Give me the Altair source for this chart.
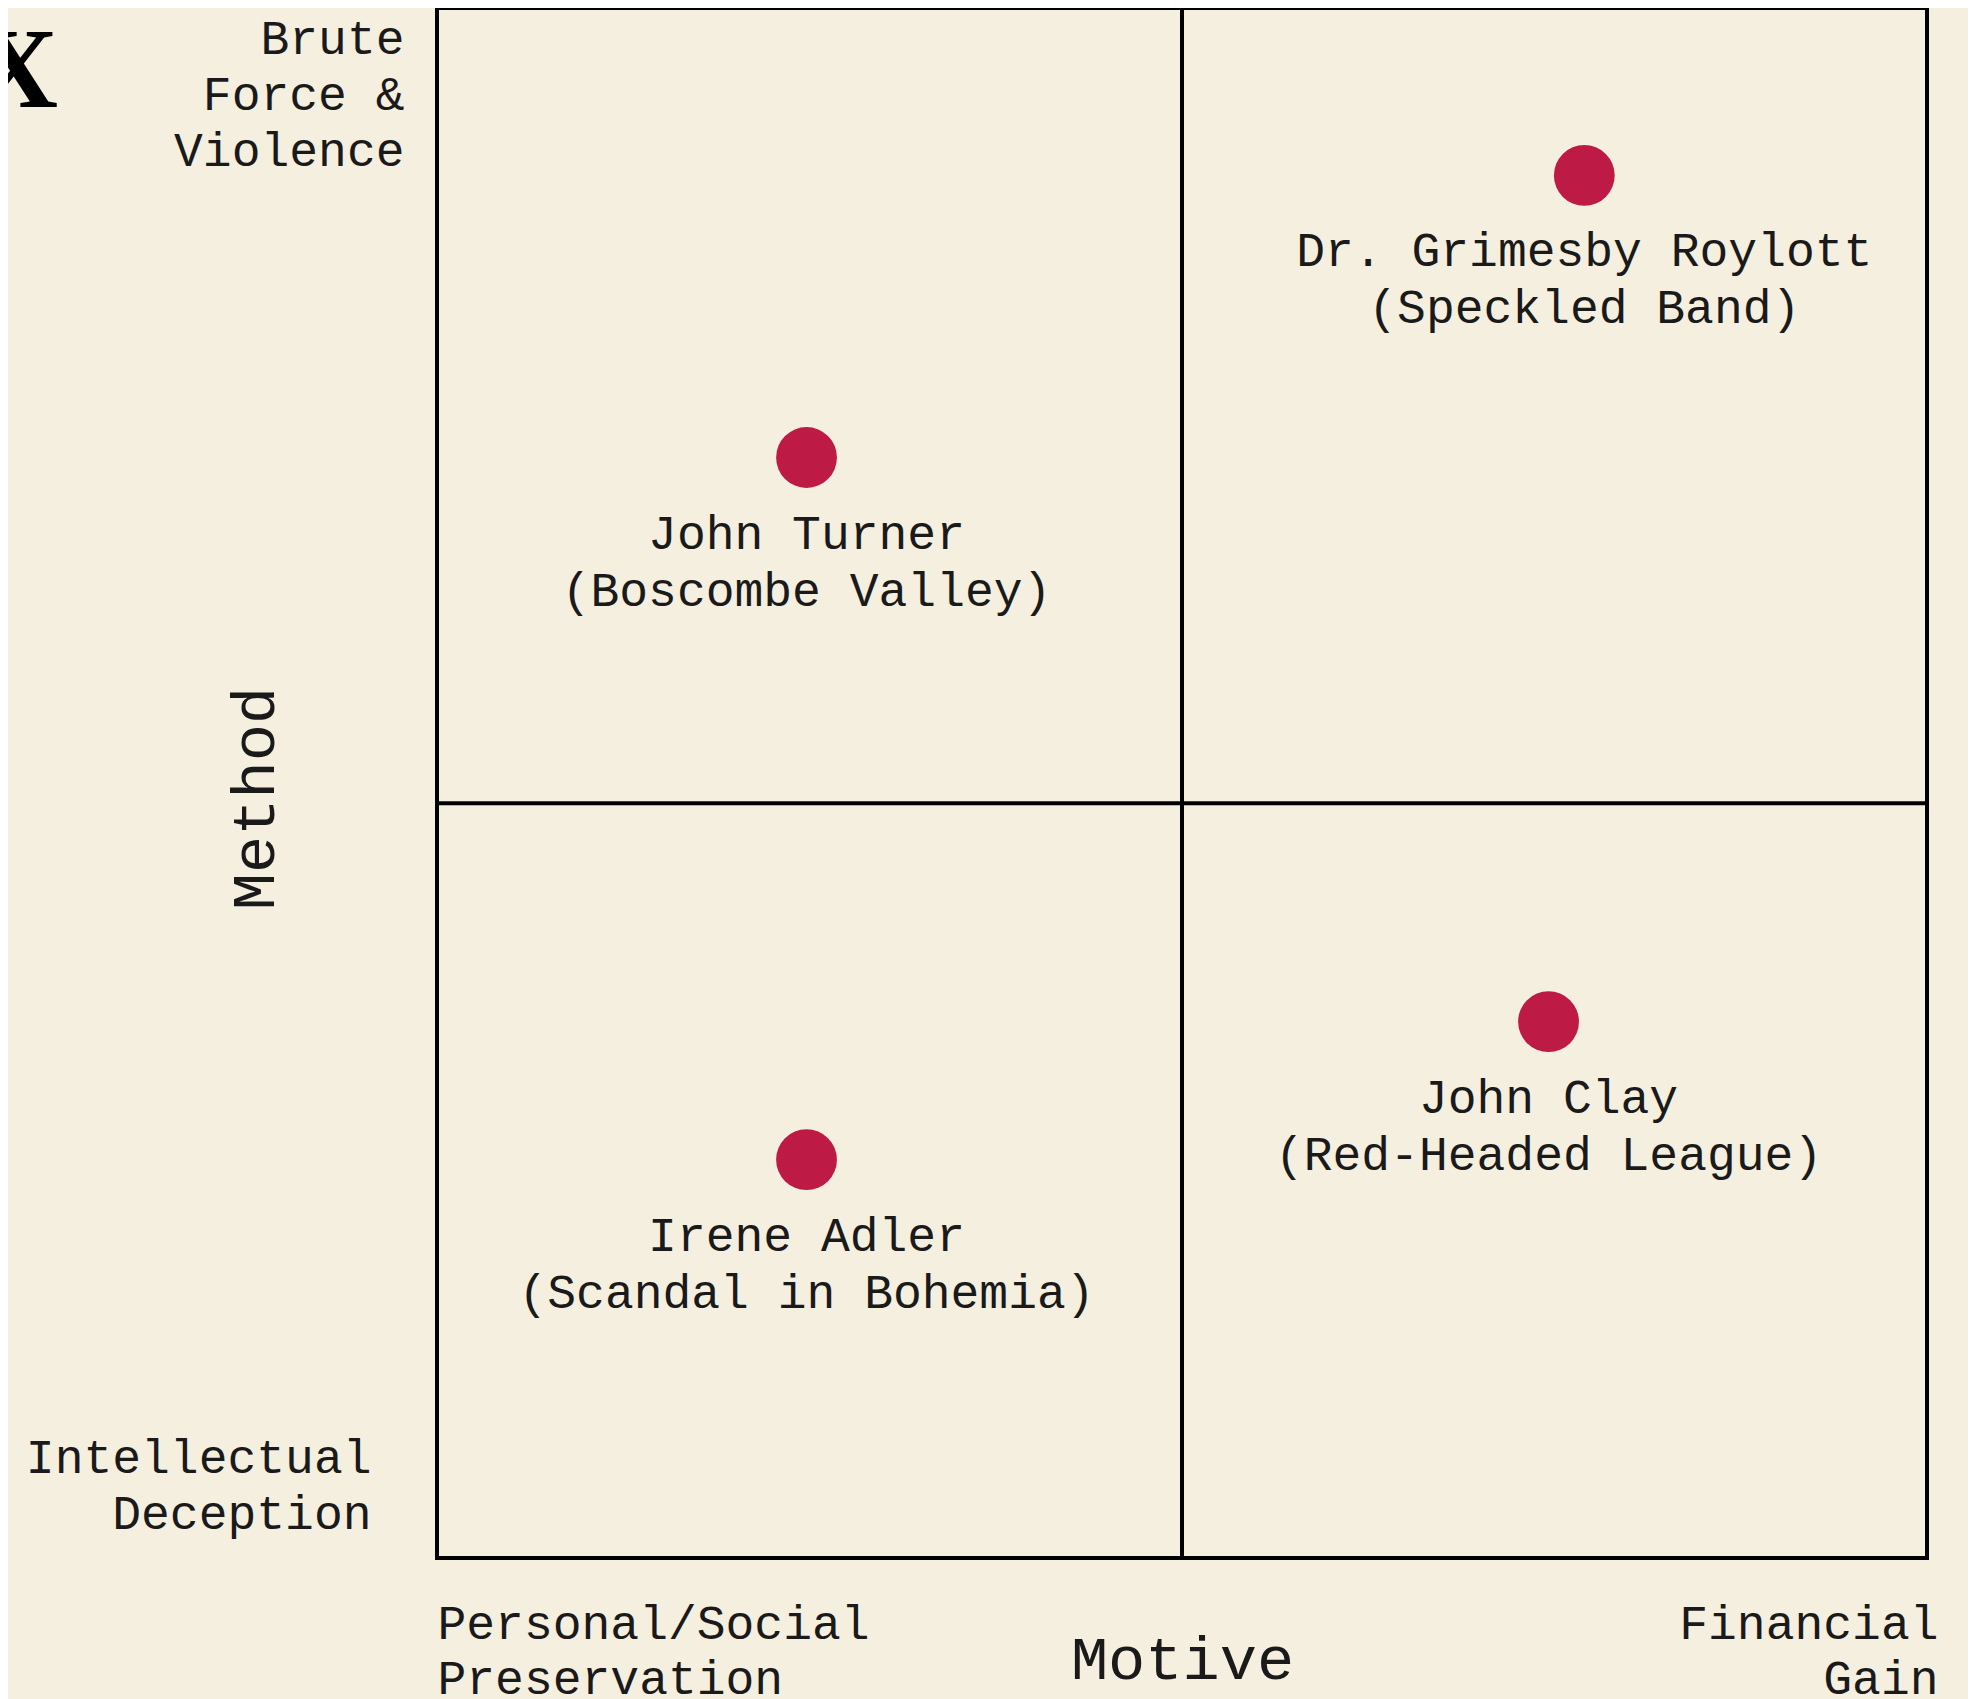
import json
import altair as alt
import pandas as pd

# ---- data ----
suspects = ["Dr. Grimesby Roylott", "John Turner", "Irene Adler", "John Clay"]
cases = ["Speckled Band", "Boscombe Valley", "Scandal in Bohemia", "Red-Headed League"]
motive = [7.70, 2.48, 2.48, 7.46]
method = [8.92, 7.10, 2.57, 3.46]

motive_split = [5.0]
method_split = [4.87]

motive_ticks = [0, 10]
motive_tick_lines = [["Personal/Social", "Preservation"], ["Financial", "Gain"]]
method_ticks = [0, 10]
method_tick_lines = [["Intellectual", "Deception"], ["Brute", "Force &", "Violence"]]

corner_text = ["X"]  # fragment of a cropped heading at the top-left

# ---- styling ----
BG = "#F5EFE0"
INK = "#1a1a1a"
DOT = "#BD1A45"
MONO = "Liberation Mono"

points = pd.DataFrame({
    "suspect": suspects,
    "case": cases,
    "motive": motive,
    "method": method,
})
points["label"] = points["suspect"] + "\n(" + points["case"] + ")"

vsplit = pd.DataFrame({"motive": motive_split})
hsplit = pd.DataFrame({"method": method_split})
corner = pd.DataFrame({"t": corner_text})

x_label_expr = (
    f"datum.value == {motive_ticks[0]} ? {json.dumps(motive_tick_lines[0])} : "
    f"{json.dumps(motive_tick_lines[1])}"
)
y_label_expr = (
    f"datum.value == {method_ticks[0]} ? {json.dumps(method_tick_lines[0])} : "
    f"{json.dumps(method_tick_lines[1])}"
)

x_enc = alt.X(
    "motive:Q",
    title="Motive",
    scale=alt.Scale(domain=[0, 10], nice=False, zero=False),
    axis=alt.Axis(
        values=motive_ticks,
        labelExpr=x_label_expr,
        labelFlush=True,
        labelLimit=900,
        labelFont=MONO,
        labelFontSize=48,
        labelLineHeight=55,
        labelColor=INK,
        labelPadding=42,
        labelOffset={"condition": {"test": "datum.value == 10", "value": 11}, "value": 0},
        ticks=False,
        tickSize=0,
        domain=False,
        grid=False,
        titleFont=MONO,
        titleFontSize=62,
        titleFontWeight="normal",
        titleColor=INK,
        titleX=745,
        titleY=120,
        titleBaseline="alphabetic",
        titleAlign="center",
    ),
)

y_enc = alt.Y(
    "method:Q",
    title="Method",
    scale=alt.Scale(domain=[0, 10], nice=False, zero=False),
    axis=alt.Axis(
        values=method_ticks,
        labelExpr=y_label_expr,
        labelFlush=True,
        labelLimit=900,
        labelFont=MONO,
        labelFontSize=48,
        labelLineHeight=56,
        labelColor=INK,
        labelAlign="right",
        labelPadding={"condition": {"test": "datum.value == 0", "value": 66}, "value": 33},
        labelOffset={"condition": {"test": "datum.value == 0", "value": -76}, "value": 7},
        ticks=False,
        tickSize=0,
        domain=False,
        grid=False,
        titleFont=MONO,
        titleFontSize=62,
        titleFontWeight="normal",
        titleColor=INK,
        titleX=-164,
        titleY=790,
        titleAngle=270,
        titleBaseline="alphabetic",
        titleAlign="center",
    ),
)

vrule = alt.Chart(vsplit).mark_rule(color="black", strokeWidth=4).encode(x=x_enc)
hrule = alt.Chart(hsplit).mark_rule(color="black", strokeWidth=4).encode(y=y_enc)

dots = alt.Chart(points).mark_circle(size=3700, color=DOT, opacity=1).encode(
    x=x_enc, y=y_enc
)

labels = alt.Chart(points).mark_text(
    font=MONO,
    fontSize=48,
    lineHeight=57,
    lineBreak="\n",
    baseline="top",
    align="center",
    dy=53,
    color=INK,
).encode(x=x_enc, y=y_enc, text="label:N")

corner_mark = alt.Chart(corner).mark_text(
    font="Liberation Serif",
    fontSize=114,
    fontWeight="bold",
    color="black",
    align="right",
    baseline="alphabetic",
).encode(x=alt.value(-379), y=alt.value(99), text="t:N")

chart = (
    alt.layer(hrule, vrule, dots, labels, corner_mark)
    .properties(
        width=1490,
        height=1550,
        background=BG,
        autosize=alt.AutoSizeParams(type="none"),
        padding={"left": 429, "top": 0, "right": 41, "bottom": 141},
    )
    .configure_view(stroke="black", strokeWidth=4, fill=BG)
)

chart.save("out.html", embed_options={"renderer": "svg", "actions": False})
